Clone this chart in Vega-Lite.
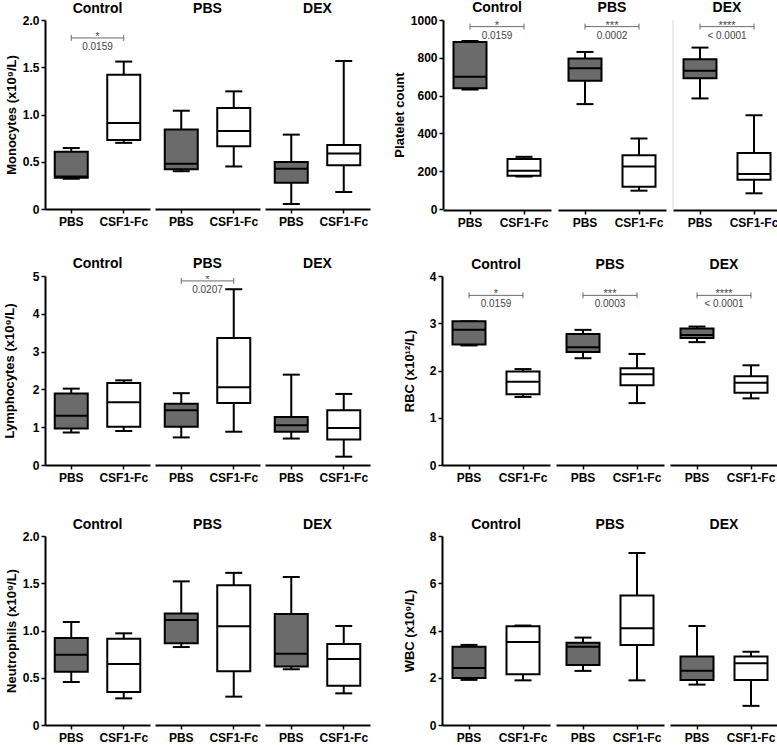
{
  "$schema": "https://vega.github.io/schema/vega-lite/v6.json",
  "padding": {"top": 1, "left": 3, "right": 0, "bottom": 0},
  "background": "white",
  "datasets": {
    "mono": [
      {"kind": "box", "group": "Control", "trt": "PBS", "min": 0.32, "q1": 0.33, "med": 0.345, "q3": 0.605, "max": 0.645},
      {"kind": "box", "group": "Control", "trt": "CSF1-Fc", "min": 0.70, "q1": 0.73, "med": 0.91, "q3": 1.42, "max": 1.56},
      {"kind": "box", "group": "PBS", "trt": "PBS", "min": 0.40, "q1": 0.42, "med": 0.48, "q3": 0.84, "max": 1.04},
      {"kind": "box", "group": "PBS", "trt": "CSF1-Fc", "min": 0.45, "q1": 0.663, "med": 0.825, "q3": 1.07, "max": 1.245},
      {"kind": "box", "group": "DEX", "trt": "PBS", "min": 0.053, "q1": 0.279, "med": 0.427, "q3": 0.497, "max": 0.787},
      {"kind": "box", "group": "DEX", "trt": "CSF1-Fc", "min": 0.18, "q1": 0.462, "med": 0.586, "q3": 0.677, "max": 1.566},
      {"kind": "sig", "group": "Control", "x1": "PBS", "x2": "CSF1-Fc", "sy": 1.81, "star": "*", "p": "0.0159"}
    ],
    "plt": [
      {"kind": "box", "group": "Control", "trt": "PBS", "min": 632, "q1": 639, "med": 700, "q3": 884, "max": 889},
      {"kind": "box", "group": "Control", "trt": "CSF1-Fc", "min": 172, "q1": 176, "med": 202, "q3": 264, "max": 276},
      {"kind": "box", "group": "PBS", "trt": "PBS", "min": 555, "q1": 678, "med": 745, "q3": 796, "max": 831},
      {"kind": "box", "group": "PBS", "trt": "CSF1-Fc", "min": 97, "q1": 118, "med": 225, "q3": 285, "max": 373},
      {"kind": "box", "group": "DEX", "trt": "PBS", "min": 585, "q1": 692, "med": 731, "q3": 792, "max": 854},
      {"kind": "box", "group": "DEX", "trt": "CSF1-Fc", "min": 83, "q1": 155, "med": 185, "q3": 296, "max": 496},
      {"kind": "sig", "group": "Control", "x1": "PBS", "x2": "CSF1-Fc", "sy": 965, "star": "*", "p": "0.0159"},
      {"kind": "sig", "group": "PBS", "x1": "PBS", "x2": "CSF1-Fc", "sy": 965, "star": "***", "p": "0.0002"},
      {"kind": "sig", "group": "DEX", "x1": "PBS", "x2": "CSF1-Fc", "sy": 965, "star": "****", "p": "< 0.0001"},
      {"kind": "vline", "group": "DEX", "x1": "PBS", "lo": 0, "hi": 1000}
    ],
    "lym": [
      {"kind": "box", "group": "Control", "trt": "PBS", "min": 0.86, "q1": 0.965, "med": 1.30, "q3": 1.89, "max": 2.02},
      {"kind": "box", "group": "Control", "trt": "CSF1-Fc", "min": 0.90, "q1": 1.01, "med": 1.66, "q3": 2.17, "max": 2.24},
      {"kind": "box", "group": "PBS", "trt": "PBS", "min": 0.73, "q1": 1.01, "med": 1.45, "q3": 1.62, "max": 1.90},
      {"kind": "box", "group": "PBS", "trt": "CSF1-Fc", "min": 0.88, "q1": 1.64, "med": 2.06, "q3": 3.36, "max": 4.65},
      {"kind": "box", "group": "DEX", "trt": "PBS", "min": 0.70, "q1": 0.88, "med": 1.05, "q3": 1.27, "max": 2.39},
      {"kind": "box", "group": "DEX", "trt": "CSF1-Fc", "min": 0.22, "q1": 0.675, "med": 0.98, "q3": 1.45, "max": 1.88},
      {"kind": "sig", "group": "PBS", "x1": "PBS", "x2": "CSF1-Fc", "sy": 4.87, "star": "*", "p": "0.0207"}
    ],
    "rbc": [
      {"kind": "box", "group": "Control", "trt": "PBS", "min": 2.53, "q1": 2.55, "med": 2.86, "q3": 3.04, "max": 3.04},
      {"kind": "box", "group": "Control", "trt": "CSF1-Fc", "min": 1.44, "q1": 1.50, "med": 1.76, "q3": 1.98, "max": 2.03},
      {"kind": "box", "group": "PBS", "trt": "PBS", "min": 2.26, "q1": 2.39, "med": 2.49, "q3": 2.77, "max": 2.86},
      {"kind": "box", "group": "PBS", "trt": "CSF1-Fc", "min": 1.31, "q1": 1.69, "med": 1.92, "q3": 2.05, "max": 2.35},
      {"kind": "box", "group": "DEX", "trt": "PBS", "min": 2.60, "q1": 2.69, "med": 2.75, "q3": 2.89, "max": 2.93},
      {"kind": "box", "group": "DEX", "trt": "CSF1-Fc", "min": 1.41, "q1": 1.53, "med": 1.74, "q3": 1.88, "max": 2.11},
      {"kind": "sig", "group": "Control", "x1": "PBS", "x2": "CSF1-Fc", "sy": 3.59, "star": "*", "p": "0.0159"},
      {"kind": "sig", "group": "PBS", "x1": "PBS", "x2": "CSF1-Fc", "sy": 3.59, "star": "***", "p": "0.0003"},
      {"kind": "sig", "group": "DEX", "x1": "PBS", "x2": "CSF1-Fc", "sy": 3.59, "star": "****", "p": "< 0.0001"}
    ],
    "neu": [
      {"kind": "box", "group": "Control", "trt": "PBS", "min": 0.455, "q1": 0.564, "med": 0.744, "q3": 0.92, "max": 1.09},
      {"kind": "box", "group": "Control", "trt": "CSF1-Fc", "min": 0.282, "q1": 0.35, "med": 0.645, "q3": 0.914, "max": 0.97},
      {"kind": "box", "group": "PBS", "trt": "PBS", "min": 0.825, "q1": 0.864, "med": 1.11, "q3": 1.18, "max": 1.52},
      {"kind": "box", "group": "PBS", "trt": "CSF1-Fc", "min": 0.30, "q1": 0.568, "med": 1.044, "q3": 1.48, "max": 1.61},
      {"kind": "box", "group": "DEX", "trt": "PBS", "min": 0.59, "q1": 0.62, "med": 0.755, "q3": 1.175, "max": 1.566},
      {"kind": "box", "group": "DEX", "trt": "CSF1-Fc", "min": 0.335, "q1": 0.416, "med": 0.698, "q3": 0.857, "max": 1.048}
    ],
    "wbc": [
      {"kind": "box", "group": "Control", "trt": "PBS", "min": 1.91, "q1": 1.99, "med": 2.41, "q3": 3.31, "max": 3.39},
      {"kind": "box", "group": "Control", "trt": "CSF1-Fc", "min": 1.89, "q1": 2.15, "med": 3.51, "q3": 4.18, "max": 4.21},
      {"kind": "box", "group": "PBS", "trt": "PBS", "min": 2.29, "q1": 2.54, "med": 3.31, "q3": 3.48, "max": 3.70},
      {"kind": "box", "group": "PBS", "trt": "CSF1-Fc", "min": 1.89, "q1": 3.39, "med": 4.10, "q3": 5.48, "max": 7.28},
      {"kind": "box", "group": "DEX", "trt": "PBS", "min": 1.71, "q1": 1.91, "med": 2.30, "q3": 2.90, "max": 4.19},
      {"kind": "box", "group": "DEX", "trt": "CSF1-Fc", "min": 0.81, "q1": 1.91, "med": 2.61, "q3": 2.90, "max": 3.10}
    ]
  },
  "spacing": 35,
  "vconcat": [
    {"spacing": 29, "vconcat": [
    {"spacing": 23, "hconcat": [
      {
        "data": {"name": "mono"},
        "facet": {"column": {"field": "group", "type": "nominal", "sort": ["Control", "PBS", "DEX"], "header": {"title": null}}},
        "spacing": 5,
        "spec": {
          "width": 105, "height": 189,
          "encoding": {"x": {"field": "trt", "type": "nominal", "title": null, "scale": {"domain": ["PBS", "CSF1-Fc"], "paddingInner": 0, "paddingOuter": 0}}},
          "layer": [
            {"transform": [{"filter": "datum.kind == 'box'"}], "mark": {"type": "rule", "color": "black", "strokeWidth": 2},
             "encoding": {"y": {"field": "min", "type": "quantitative", "title": "Monocytes (x10⁹/L)", "scale": {"domain": [0, 2], "nice": false}, "axis": {"values": [0, 0.5, 1, 1.5, 2], "tickCount": 10, "labelExpr": "datum.value == 0 ? '0' : format(datum.value, '.1f')"}}, "y2": {"field": "max"}}},
            {"transform": [{"filter": "datum.kind == 'box'"}], "mark": {"type": "tick", "color": "black", "size": 17, "thickness": 2, "opacity": 1}, "encoding": {"y": {"field": "min", "type": "quantitative"}}},
            {"transform": [{"filter": "datum.kind == 'box'"}], "mark": {"type": "tick", "color": "black", "size": 17, "thickness": 2, "opacity": 1}, "encoding": {"y": {"field": "max", "type": "quantitative"}}},
            {"transform": [{"filter": "datum.kind == 'box'"}], "mark": {"type": "bar", "width": 33, "stroke": "black", "strokeWidth": 2, "opacity": 1},
             "encoding": {"y": {"field": "q1", "type": "quantitative"}, "y2": {"field": "q3"}, "fill": {"field": "trt", "type": "nominal", "scale": {"domain": ["PBS", "CSF1-Fc"], "range": ["#6b6b6b", "#ffffff"]}, "legend": null}}},
            {"transform": [{"filter": "datum.kind == 'box'"}], "mark": {"type": "tick", "color": "black", "size": 33, "thickness": 2, "opacity": 1}, "encoding": {"y": {"field": "med", "type": "quantitative"}}},
            {"transform": [{"filter": "datum.kind == 'sig'"}], "mark": {"type": "rule", "color": "#6a6a6a", "strokeWidth": 1},
             "encoding": {"x": {"field": "x1", "type": "nominal", "bandPosition": 0.5}, "x2": {"field": "x2", "bandPosition": 0.5}, "y": {"field": "sy", "type": "quantitative"}}},
            {"transform": [{"filter": "datum.kind == 'sig'"}], "mark": {"type": "point", "shape": "M0,-1L0,1", "size": 36, "filled": false, "stroke": "#6a6a6a", "strokeWidth": 1, "opacity": 1},
             "encoding": {"x": {"field": "x1", "type": "nominal"}, "y": {"field": "sy", "type": "quantitative"}}},
            {"transform": [{"filter": "datum.kind == 'sig'"}], "mark": {"type": "point", "shape": "M0,-1L0,1", "size": 36, "filled": false, "stroke": "#6a6a6a", "strokeWidth": 1, "opacity": 1},
             "encoding": {"x": {"field": "x2", "type": "nominal"}, "y": {"field": "sy", "type": "quantitative"}}},
            {"transform": [{"filter": "datum.kind == 'sig'"}], "mark": {"type": "text", "fontSize": 11, "color": "#444444", "baseline": "alphabetic", "dy": 2, "clip": true},
             "encoding": {"x": {"field": "x1", "type": "nominal", "bandPosition": 1}, "y": {"field": "sy", "type": "quantitative"}, "text": {"field": "star"}}},
            {"transform": [{"filter": "datum.kind == 'sig'"}], "mark": {"type": "text", "fontSize": 10, "color": "#444444", "baseline": "top", "dy": 4},
             "encoding": {"x": {"field": "x1", "type": "nominal", "bandPosition": 1}, "y": {"field": "sy", "type": "quantitative"}, "text": {"field": "p"}}}
          ]
        }
      },
      {
        "data": {"name": "plt"},
        "facet": {"column": {"field": "group", "type": "nominal", "sort": ["Control", "PBS", "DEX"], "header": {"title": null}}},
        "spacing": 6,
        "spec": {
          "width": 108, "height": 189,
          "encoding": {"x": {"field": "trt", "type": "nominal", "title": null, "scale": {"domain": ["PBS", "CSF1-Fc"], "paddingInner": 0, "paddingOuter": 0}}},
          "layer": [
            {"transform": [{"filter": "datum.kind == 'vline'"}], "mark": {"type": "rule", "color": "#e4e4e4", "strokeWidth": 1.5},
             "encoding": {"x": {"field": "x1", "type": "nominal", "bandPosition": 0}, "y": {"field": "lo", "type": "quantitative", "title": "Platelet count", "scale": {"domain": [0, 1000], "nice": false}, "axis": {"values": [0, 200, 400, 600, 800, 1000], "tickCount": 10, "labelExpr": "format(datum.value, 'd')"}}, "y2": {"field": "hi"}}},
            {"transform": [{"filter": "datum.kind == 'box'"}], "mark": {"type": "rule", "color": "black", "strokeWidth": 2},
             "encoding": {"y": {"field": "min", "type": "quantitative"}, "y2": {"field": "max"}}},
            {"transform": [{"filter": "datum.kind == 'box'"}], "mark": {"type": "tick", "color": "black", "size": 17, "thickness": 2, "opacity": 1}, "encoding": {"y": {"field": "min", "type": "quantitative"}}},
            {"transform": [{"filter": "datum.kind == 'box'"}], "mark": {"type": "tick", "color": "black", "size": 17, "thickness": 2, "opacity": 1}, "encoding": {"y": {"field": "max", "type": "quantitative"}}},
            {"transform": [{"filter": "datum.kind == 'box'"}], "mark": {"type": "bar", "width": 33, "stroke": "black", "strokeWidth": 2, "opacity": 1},
             "encoding": {"y": {"field": "q1", "type": "quantitative"}, "y2": {"field": "q3"}, "fill": {"field": "trt", "type": "nominal", "scale": {"domain": ["PBS", "CSF1-Fc"], "range": ["#6b6b6b", "#ffffff"]}, "legend": null}}},
            {"transform": [{"filter": "datum.kind == 'box'"}], "mark": {"type": "tick", "color": "black", "size": 33, "thickness": 2, "opacity": 1}, "encoding": {"y": {"field": "med", "type": "quantitative"}}},
            {"transform": [{"filter": "datum.kind == 'sig'"}], "mark": {"type": "rule", "color": "#6a6a6a", "strokeWidth": 1},
             "encoding": {"x": {"field": "x1", "type": "nominal", "bandPosition": 0.5}, "x2": {"field": "x2", "bandPosition": 0.5}, "y": {"field": "sy", "type": "quantitative"}}},
            {"transform": [{"filter": "datum.kind == 'sig'"}], "mark": {"type": "point", "shape": "M0,-1L0,1", "size": 36, "filled": false, "stroke": "#6a6a6a", "strokeWidth": 1, "opacity": 1},
             "encoding": {"x": {"field": "x1", "type": "nominal"}, "y": {"field": "sy", "type": "quantitative"}}},
            {"transform": [{"filter": "datum.kind == 'sig'"}], "mark": {"type": "point", "shape": "M0,-1L0,1", "size": 36, "filled": false, "stroke": "#6a6a6a", "strokeWidth": 1, "opacity": 1},
             "encoding": {"x": {"field": "x2", "type": "nominal"}, "y": {"field": "sy", "type": "quantitative"}}},
            {"transform": [{"filter": "datum.kind == 'sig'"}], "mark": {"type": "text", "fontSize": 11, "color": "#444444", "baseline": "alphabetic", "dy": 2, "clip": true},
             "encoding": {"x": {"field": "x1", "type": "nominal", "bandPosition": 1}, "y": {"field": "sy", "type": "quantitative"}, "text": {"field": "star"}}},
            {"transform": [{"filter": "datum.kind == 'sig'"}], "mark": {"type": "text", "fontSize": 10, "color": "#444444", "baseline": "top", "dy": 4},
             "encoding": {"x": {"field": "x1", "type": "nominal", "bandPosition": 1}, "y": {"field": "sy", "type": "quantitative"}, "text": {"field": "p"}}}
          ]
        }
      }
    ]},
    {"spacing": 33, "hconcat": [
      {
        "data": {"name": "lym"},
        "facet": {"column": {"field": "group", "type": "nominal", "sort": ["Control", "PBS", "DEX"], "header": {"title": null}}},
        "spacing": 5,
        "spec": {
          "width": 105, "height": 189,
          "encoding": {"x": {"field": "trt", "type": "nominal", "title": null, "scale": {"domain": ["PBS", "CSF1-Fc"], "paddingInner": 0, "paddingOuter": 0}}},
          "layer": [
            {"transform": [{"filter": "datum.kind == 'box'"}], "mark": {"type": "rule", "color": "black", "strokeWidth": 2},
             "encoding": {"y": {"field": "min", "type": "quantitative", "title": "Lymphocytes (x10⁹/L)", "scale": {"domain": [0, 5], "nice": false}, "axis": {"values": [0, 1, 2, 3, 4, 5], "tickCount": 10, "minExtent": 25, "labelExpr": "format(datum.value, 'd')"}}, "y2": {"field": "max"}}},
            {"transform": [{"filter": "datum.kind == 'box'"}], "mark": {"type": "tick", "color": "black", "size": 17, "thickness": 2, "opacity": 1}, "encoding": {"y": {"field": "min", "type": "quantitative"}}},
            {"transform": [{"filter": "datum.kind == 'box'"}], "mark": {"type": "tick", "color": "black", "size": 17, "thickness": 2, "opacity": 1}, "encoding": {"y": {"field": "max", "type": "quantitative"}}},
            {"transform": [{"filter": "datum.kind == 'box'"}], "mark": {"type": "bar", "width": 33, "stroke": "black", "strokeWidth": 2, "opacity": 1},
             "encoding": {"y": {"field": "q1", "type": "quantitative"}, "y2": {"field": "q3"}, "fill": {"field": "trt", "type": "nominal", "scale": {"domain": ["PBS", "CSF1-Fc"], "range": ["#6b6b6b", "#ffffff"]}, "legend": null}}},
            {"transform": [{"filter": "datum.kind == 'box'"}], "mark": {"type": "tick", "color": "black", "size": 33, "thickness": 2, "opacity": 1}, "encoding": {"y": {"field": "med", "type": "quantitative"}}},
            {"transform": [{"filter": "datum.kind == 'sig'"}], "mark": {"type": "rule", "color": "#6a6a6a", "strokeWidth": 1},
             "encoding": {"x": {"field": "x1", "type": "nominal", "bandPosition": 0.5}, "x2": {"field": "x2", "bandPosition": 0.5}, "y": {"field": "sy", "type": "quantitative"}}},
            {"transform": [{"filter": "datum.kind == 'sig'"}], "mark": {"type": "point", "shape": "M0,-1L0,1", "size": 36, "filled": false, "stroke": "#6a6a6a", "strokeWidth": 1, "opacity": 1},
             "encoding": {"x": {"field": "x1", "type": "nominal"}, "y": {"field": "sy", "type": "quantitative"}}},
            {"transform": [{"filter": "datum.kind == 'sig'"}], "mark": {"type": "point", "shape": "M0,-1L0,1", "size": 36, "filled": false, "stroke": "#6a6a6a", "strokeWidth": 1, "opacity": 1},
             "encoding": {"x": {"field": "x2", "type": "nominal"}, "y": {"field": "sy", "type": "quantitative"}}},
            {"transform": [{"filter": "datum.kind == 'sig'"}], "mark": {"type": "text", "fontSize": 11, "color": "#444444", "baseline": "alphabetic", "dy": 2, "clip": true},
             "encoding": {"x": {"field": "x1", "type": "nominal", "bandPosition": 1}, "y": {"field": "sy", "type": "quantitative"}, "text": {"field": "star"}}},
            {"transform": [{"filter": "datum.kind == 'sig'"}], "mark": {"type": "text", "fontSize": 10, "color": "#444444", "baseline": "top", "dy": 4},
             "encoding": {"x": {"field": "x1", "type": "nominal", "bandPosition": 1}, "y": {"field": "sy", "type": "quantitative"}, "text": {"field": "p"}}}
          ]
        }
      },
      {
        "data": {"name": "rbc"},
        "facet": {"column": {"field": "group", "type": "nominal", "sort": ["Control", "PBS", "DEX"], "header": {"title": null}}},
        "spacing": 6,
        "spec": {
          "width": 108, "height": 189,
          "encoding": {"x": {"field": "trt", "type": "nominal", "title": null, "scale": {"domain": ["PBS", "CSF1-Fc"], "paddingInner": 0, "paddingOuter": 0}}},
          "layer": [
            {"transform": [{"filter": "datum.kind == 'box'"}], "mark": {"type": "rule", "color": "black", "strokeWidth": 2},
             "encoding": {"y": {"field": "min", "type": "quantitative", "title": "RBC (x10¹²/L)", "scale": {"domain": [0, 4], "nice": false}, "axis": {"values": [0, 1, 2, 3, 4], "tickCount": 10, "minExtent": 22, "labelExpr": "format(datum.value, 'd')"}}, "y2": {"field": "max"}}},
            {"transform": [{"filter": "datum.kind == 'box'"}], "mark": {"type": "tick", "color": "black", "size": 17, "thickness": 2, "opacity": 1}, "encoding": {"y": {"field": "min", "type": "quantitative"}}},
            {"transform": [{"filter": "datum.kind == 'box'"}], "mark": {"type": "tick", "color": "black", "size": 17, "thickness": 2, "opacity": 1}, "encoding": {"y": {"field": "max", "type": "quantitative"}}},
            {"transform": [{"filter": "datum.kind == 'box'"}], "mark": {"type": "bar", "width": 33, "stroke": "black", "strokeWidth": 2, "opacity": 1},
             "encoding": {"y": {"field": "q1", "type": "quantitative"}, "y2": {"field": "q3"}, "fill": {"field": "trt", "type": "nominal", "scale": {"domain": ["PBS", "CSF1-Fc"], "range": ["#6b6b6b", "#ffffff"]}, "legend": null}}},
            {"transform": [{"filter": "datum.kind == 'box'"}], "mark": {"type": "tick", "color": "black", "size": 33, "thickness": 2, "opacity": 1}, "encoding": {"y": {"field": "med", "type": "quantitative"}}},
            {"transform": [{"filter": "datum.kind == 'sig'"}], "mark": {"type": "rule", "color": "#6a6a6a", "strokeWidth": 1},
             "encoding": {"x": {"field": "x1", "type": "nominal", "bandPosition": 0.5}, "x2": {"field": "x2", "bandPosition": 0.5}, "y": {"field": "sy", "type": "quantitative"}}},
            {"transform": [{"filter": "datum.kind == 'sig'"}], "mark": {"type": "point", "shape": "M0,-1L0,1", "size": 36, "filled": false, "stroke": "#6a6a6a", "strokeWidth": 1, "opacity": 1},
             "encoding": {"x": {"field": "x1", "type": "nominal"}, "y": {"field": "sy", "type": "quantitative"}}},
            {"transform": [{"filter": "datum.kind == 'sig'"}], "mark": {"type": "point", "shape": "M0,-1L0,1", "size": 36, "filled": false, "stroke": "#6a6a6a", "strokeWidth": 1, "opacity": 1},
             "encoding": {"x": {"field": "x2", "type": "nominal"}, "y": {"field": "sy", "type": "quantitative"}}},
            {"transform": [{"filter": "datum.kind == 'sig'"}], "mark": {"type": "text", "fontSize": 11, "color": "#444444", "baseline": "alphabetic", "dy": 2, "clip": true},
             "encoding": {"x": {"field": "x1", "type": "nominal", "bandPosition": 1}, "y": {"field": "sy", "type": "quantitative"}, "text": {"field": "star"}}},
            {"transform": [{"filter": "datum.kind == 'sig'"}], "mark": {"type": "text", "fontSize": 10, "color": "#444444", "baseline": "top", "dy": 4},
             "encoding": {"x": {"field": "x1", "type": "nominal", "bandPosition": 1}, "y": {"field": "sy", "type": "quantitative"}, "text": {"field": "p"}}}
          ]
        }
      }
    ]}
    ]},
    {"spacing": 33, "hconcat": [
      {
        "data": {"name": "neu"},
        "facet": {"column": {"field": "group", "type": "nominal", "sort": ["Control", "PBS", "DEX"], "header": {"title": null}}},
        "spacing": 5,
        "spec": {
          "width": 105, "height": 189,
          "encoding": {"x": {"field": "trt", "type": "nominal", "title": null, "scale": {"domain": ["PBS", "CSF1-Fc"], "paddingInner": 0, "paddingOuter": 0}}},
          "layer": [
            {"transform": [{"filter": "datum.kind == 'box'"}], "mark": {"type": "rule", "color": "black", "strokeWidth": 2},
             "encoding": {"y": {"field": "min", "type": "quantitative", "title": "Neutrophils (x10⁹/L)", "scale": {"domain": [0, 2], "nice": false}, "axis": {"values": [0, 0.5, 1, 1.5, 2], "tickCount": 10, "labelExpr": "datum.value == 0 ? '0' : format(datum.value, '.1f')"}}, "y2": {"field": "max"}}},
            {"transform": [{"filter": "datum.kind == 'box'"}], "mark": {"type": "tick", "color": "black", "size": 17, "thickness": 2, "opacity": 1}, "encoding": {"y": {"field": "min", "type": "quantitative"}}},
            {"transform": [{"filter": "datum.kind == 'box'"}], "mark": {"type": "tick", "color": "black", "size": 17, "thickness": 2, "opacity": 1}, "encoding": {"y": {"field": "max", "type": "quantitative"}}},
            {"transform": [{"filter": "datum.kind == 'box'"}], "mark": {"type": "bar", "width": 33, "stroke": "black", "strokeWidth": 2, "opacity": 1},
             "encoding": {"y": {"field": "q1", "type": "quantitative"}, "y2": {"field": "q3"}, "fill": {"field": "trt", "type": "nominal", "scale": {"domain": ["PBS", "CSF1-Fc"], "range": ["#6b6b6b", "#ffffff"]}, "legend": null}}},
            {"transform": [{"filter": "datum.kind == 'box'"}], "mark": {"type": "tick", "color": "black", "size": 33, "thickness": 2, "opacity": 1}, "encoding": {"y": {"field": "med", "type": "quantitative"}}}
          ]
        }
      },
      {
        "data": {"name": "wbc"},
        "facet": {"column": {"field": "group", "type": "nominal", "sort": ["Control", "PBS", "DEX"], "header": {"title": null}}},
        "spacing": 6,
        "spec": {
          "width": 108, "height": 189,
          "encoding": {"x": {"field": "trt", "type": "nominal", "title": null, "scale": {"domain": ["PBS", "CSF1-Fc"], "paddingInner": 0, "paddingOuter": 0}}},
          "layer": [
            {"transform": [{"filter": "datum.kind == 'box'"}], "mark": {"type": "rule", "color": "black", "strokeWidth": 2},
             "encoding": {"y": {"field": "min", "type": "quantitative", "title": "WBC (x10⁹/L)", "scale": {"domain": [0, 8], "nice": false}, "axis": {"values": [0, 2, 4, 6, 8], "tickCount": 10, "minExtent": 22, "labelExpr": "format(datum.value, 'd')"}}, "y2": {"field": "max"}}},
            {"transform": [{"filter": "datum.kind == 'box'"}], "mark": {"type": "tick", "color": "black", "size": 17, "thickness": 2, "opacity": 1}, "encoding": {"y": {"field": "min", "type": "quantitative"}}},
            {"transform": [{"filter": "datum.kind == 'box'"}], "mark": {"type": "tick", "color": "black", "size": 17, "thickness": 2, "opacity": 1}, "encoding": {"y": {"field": "max", "type": "quantitative"}}},
            {"transform": [{"filter": "datum.kind == 'box'"}], "mark": {"type": "bar", "width": 33, "stroke": "black", "strokeWidth": 2, "opacity": 1},
             "encoding": {"y": {"field": "q1", "type": "quantitative"}, "y2": {"field": "q3"}, "fill": {"field": "trt", "type": "nominal", "scale": {"domain": ["PBS", "CSF1-Fc"], "range": ["#6b6b6b", "#ffffff"]}, "legend": null}}},
            {"transform": [{"filter": "datum.kind == 'box'"}], "mark": {"type": "tick", "color": "black", "size": 33, "thickness": 2, "opacity": 1}, "encoding": {"y": {"field": "med", "type": "quantitative"}}}
          ]
        }
      }
    ]}
  ],
  "config": {
    "font": "Liberation Sans",
    "view": {"stroke": null},
    "axis": {"grid": false, "domainColor": "black", "domainWidth": 2, "tickColor": "black", "tickWidth": 1.5, "tickSize": 4, "labelOverlap": false,
             "labelFont": "Liberation Sans", "labelFontSize": 12, "labelFontWeight": "bold", "labelColor": "black",
             "titleFont": "Liberation Sans", "titleFontSize": 13, "titleFontWeight": "bold", "titleColor": "black"},
    "axisX": {"labelAngle": 0, "labelPadding": 3},
    "axisY": {"labelPadding": 2, "titlePadding": 4},
    "header": {"labelFont": "Liberation Sans", "labelFontSize": 14, "labelFontWeight": "bold", "labelColor": "black", "labelPadding": 4}
  }
}
